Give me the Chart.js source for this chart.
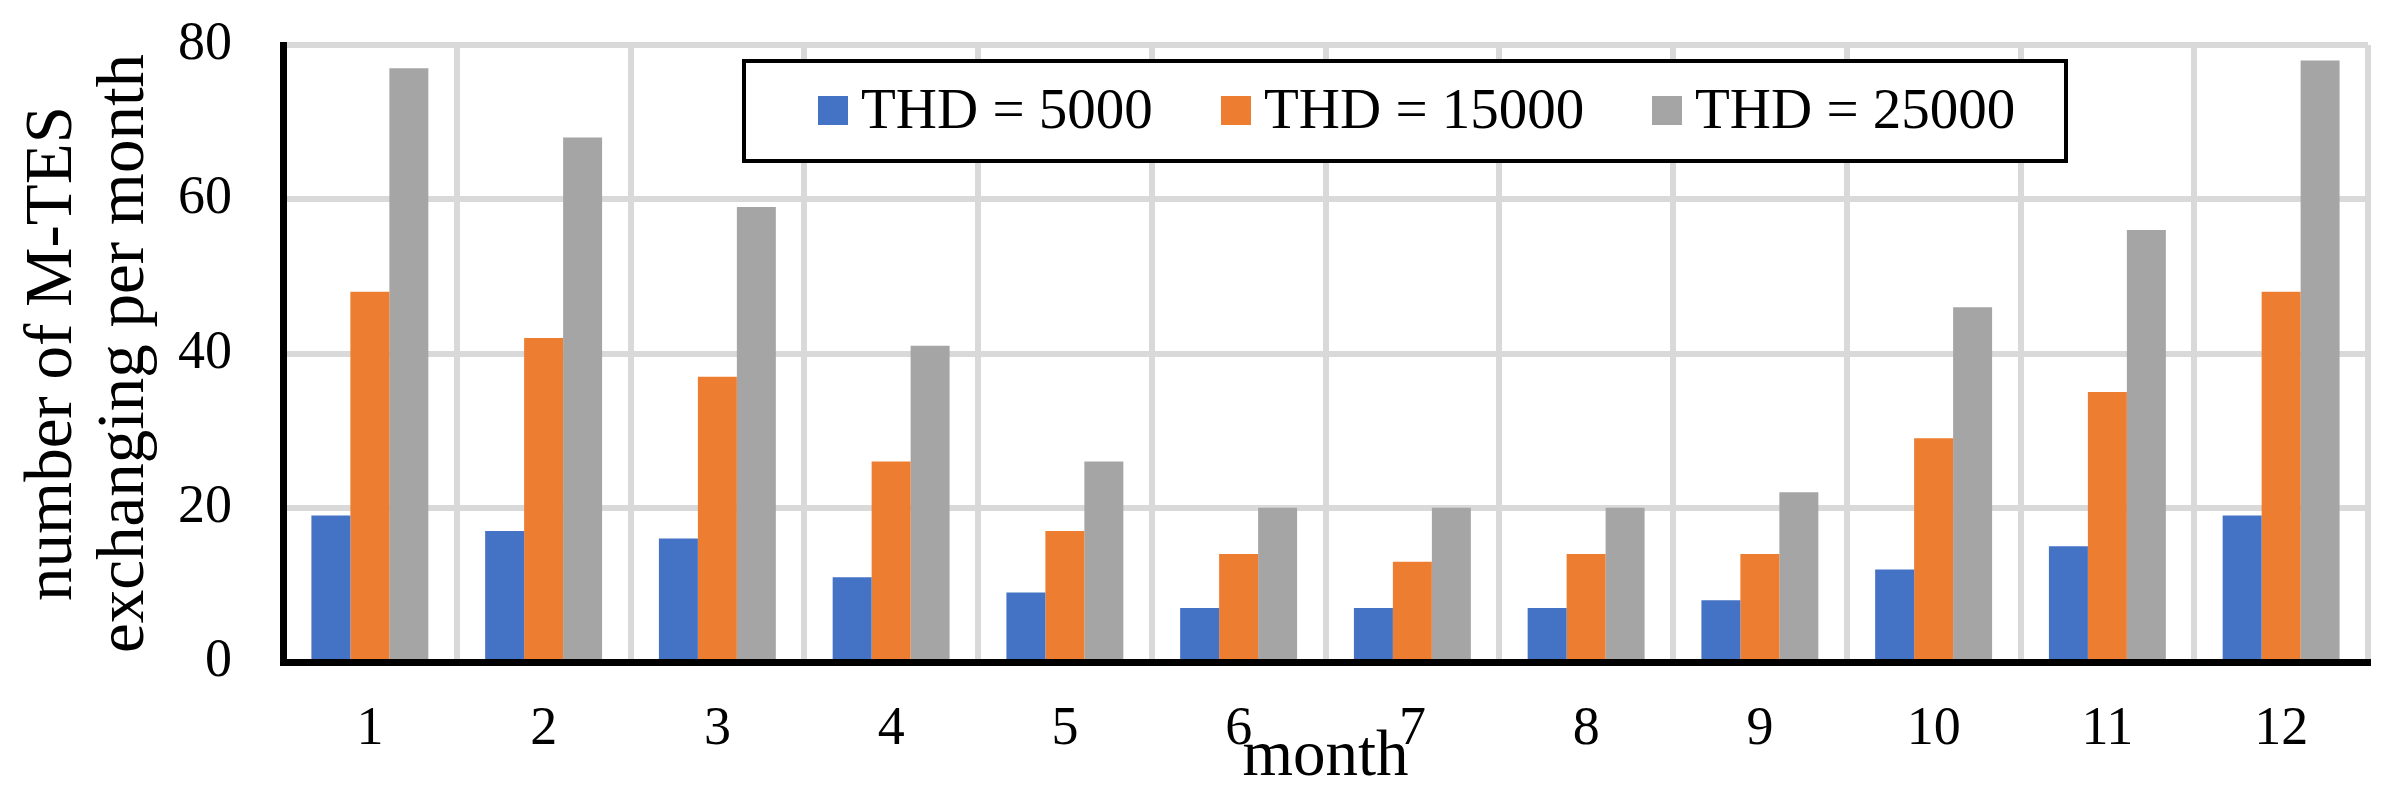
<!DOCTYPE html>
<html>
<head>
<meta charset="utf-8">
<script src="https://cdn.jsdelivr.net/npm/chart.js@4.4.1/dist/chart.umd.min.js"></script>
<style>
  html, body { margin: 0; padding: 0; background: #fff; }
  #wrap { width: 2400px; height: 800px; }
</style>
</head>
<body>
<div id="wrap"><canvas id="chart" width="2400" height="800"></canvas></div>
<script>
/* -------------------------------
   Data
--------------------------------*/
const months = ["1", "2", "3", "4", "5", "6", "7", "8", "9", "10", "11", "12"];
const seriesLabels = ["THD = 5000", "THD = 15000", "THD = 25000"];
const thd5000 = [19, 17, 16, 11, 9, 7, 7, 7, 8, 12, 15, 19];
const thd15000 = [48, 42, 37, 26, 17, 14, 13, 14, 14, 29, 35, 48];
const thd25000 = [77, 68, 59, 41, 26, 20, 20, 20, 22, 46, 56, 78];
const yTicks = [0, 20, 40, 60, 80];

const colors = ["#4472C4", "#ED7D31", "#A5A5A5"];
const FONT = "'Liberation Serif', 'Times New Roman', serif";

/* -------------------------------
   Boxed legend drawn inside the plot
--------------------------------*/
const boxLegend = {
  id: "boxLegend",
  afterDraw(chart) {
    const ctx = chart.ctx;
    const x0 = 744, y0 = 61, x1 = 2066, y1 = 161;
    ctx.save();
    ctx.fillStyle = "#fff";
    ctx.fillRect(x0, y0, x1 - x0, y1 - y0);
    ctx.strokeStyle = "#000";
    ctx.lineWidth = 4;
    ctx.strokeRect(x0, y0, x1 - x0, y1 - y0);

    const markers = [818, 1221, 1652];
    ctx.font = "57px " + FONT;
    ctx.textBaseline = "alphabetic";
    chart.data.datasets.forEach((ds, i) => {
      ctx.fillStyle = ds.backgroundColor;
      ctx.fillRect(markers[i], 96, 30, 29);
      ctx.fillStyle = "#000";
      ctx.fillText(ds.label, markers[i] + 43, 128);
    });
    ctx.restore();
  }
};

new Chart(document.getElementById("chart"), {
  type: "bar",
  data: {
    labels: months,
    datasets: [
      { label: seriesLabels[0], data: thd5000, backgroundColor: colors[0] },
      { label: seriesLabels[1], data: thd15000, backgroundColor: colors[1] },
      { label: seriesLabels[2], data: thd25000, backgroundColor: colors[2] }
    ]
  },
  options: {
    responsive: false,
    animation: false,
    devicePixelRatio: 1,
    layout: { autoPadding: false, padding: { top: 45, right: 32, left: 0, bottom: 0 } },
    datasets: {
      bar: { categoryPercentage: 0.673, barPercentage: 1.0 }
    },
    plugins: {
      legend: { display: false },
      tooltip: { enabled: false }
    },
    scales: {
      x: {
        afterFit: axis => {
          axis.height = 138;
          axis.paddingLeft = 0;
          axis.paddingRight = 0;
        },
        grid: { offset: true, color: "#D9D9D9", lineWidth: 6, drawTicks: false },
        border: { color: "#000", width: 7 },
        ticks: { color: "#000", font: { family: FONT, size: 54 }, padding: 35 },
        title: {
          display: true,
          text: "month",
          color: "#000",
          font: { family: FONT, size: 65, lineHeight: 1.075 },
          padding: { top: 0, bottom: 7 }
        }
      },
      y: {
        min: 0,
        max: 80,
        afterFit: axis => {
          axis.width = 283;
          axis.paddingTop = 0;
          axis.paddingBottom = 0;
        },
        afterBuildTicks: axis => { axis.ticks = yTicks.map(v => ({ value: v })); },
        grid: { color: "#D9D9D9", lineWidth: 6, drawTicks: false },
        border: { color: "#000", width: 7 },
        ticks: { color: "#000", font: { family: FONT, size: 54 }, padding: 51 },
        title: {
          display: true,
          text: ["number of M-TES", "exchanging per month"],
          color: "#000",
          font: { family: FONT, size: 67, lineHeight: 1.075 },
          padding: { top: 17, bottom: 0 }
        }
      }
    }
  },
  plugins: [boxLegend]
});
</script>
</body>
</html>
